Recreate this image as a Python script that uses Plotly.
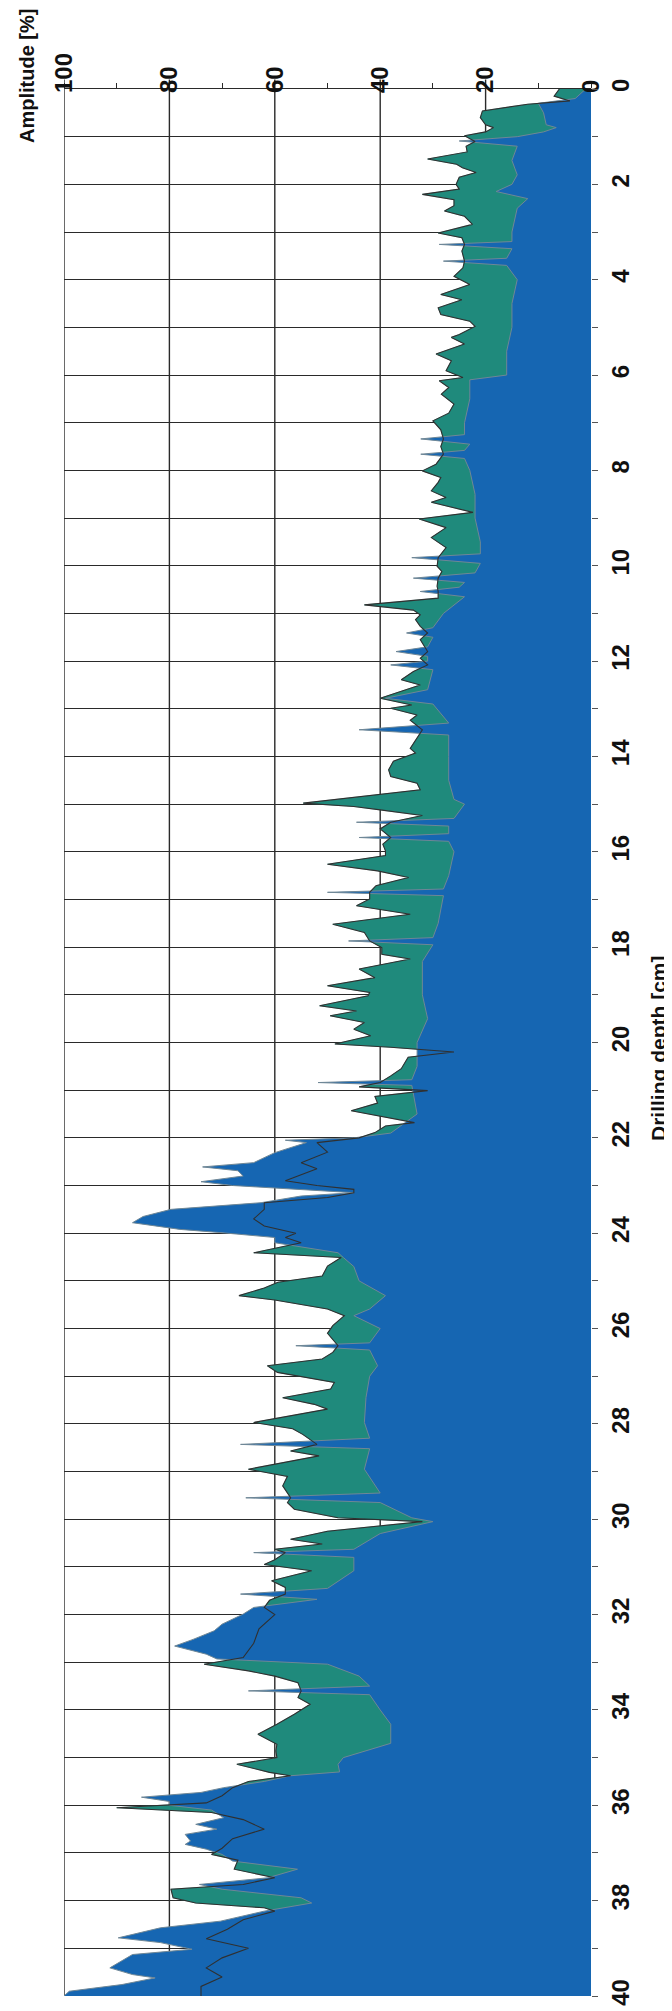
import plotly.graph_objects as go

# ---- data (depth in cm, amplitude in %) ----
green_depth = [0.00,0.15,0.25,0.32,0.46,0.60,0.75,0.81,0.90,0.98,1.10,1.20,1.32,1.47,1.58,1.65,1.75,1.85,2.00,2.10,
    2.21,2.32,2.45,2.56,2.67,2.84,3.02,3.12,3.26,3.40,3.61,3.75,3.93,4.10,4.31,4.42,4.59,4.73,4.87,4.98,
    5.15,5.21,5.35,5.56,5.70,5.91,6.05,6.12,6.26,6.40,6.61,6.80,6.96,7.15,7.34,7.50,7.66,7.87,8.01,8.15,
    8.25,8.43,8.57,8.67,8.88,9.02,9.20,9.41,9.62,9.83,10.01,10.12,10.26,10.43,10.54,10.68,10.82,10.93,11.03,11.13,
    11.27,11.41,11.55,11.80,11.94,12.08,12.22,12.39,12.50,12.78,12.92,12.99,13.13,13.24,13.44,13.62,13.83,13.93,14.10,14.28,
    14.42,14.56,14.70,14.98,15.05,15.12,15.24,15.38,15.52,15.70,15.84,15.98,16.08,16.26,16.40,16.54,16.71,16.85,16.99,17.13,
    17.31,17.52,17.69,17.87,18.01,18.15,18.25,18.46,18.64,18.81,18.95,19.02,19.23,19.34,19.44,19.58,19.72,19.86,20.03,20.10,
    20.20,20.31,20.55,20.70,20.84,20.93,21.01,21.13,21.27,21.43,21.57,21.68,21.75,21.89,22.00,22.10,22.30,22.52,22.65,22.80,
    22.90,23.00,23.08,23.15,23.25,23.36,23.50,23.70,23.85,24.00,24.09,24.20,24.41,24.51,24.69,24.90,25.03,25.15,25.31,25.40,
    25.59,25.73,25.94,26.10,26.36,26.50,26.64,26.78,26.92,27.13,27.27,27.45,27.59,27.69,27.97,28.10,28.22,28.43,28.57,28.67,
    28.95,29.10,29.30,29.55,29.65,29.79,29.97,30.05,30.25,30.42,30.52,30.63,30.70,30.85,30.95,31.08,31.29,31.43,31.57,31.70,
    31.85,32.00,32.30,32.60,32.90,33.04,33.18,33.29,33.43,33.60,33.74,33.88,34.09,34.30,34.51,34.72,34.86,35.00,35.14,35.31,
    35.38,35.50,35.63,35.80,35.95,36.05,36.15,36.30,36.50,36.70,36.90,37.03,37.15,37.34,37.52,37.66,37.76,37.94,38.05,38.15,
    38.22,38.40,38.60,38.80,39.00,39.20,39.41,39.60,39.80,40.00]
green_amp = [6,7,4,12,20.6,21,20,18.5,20,24,22,23.7,23.5,31,25.5,24.4,21.8,25,25.6,25,
    32,26,26,27.8,24,22.5,29,24.5,24,24.5,24,24.3,26,23,28.5,24.5,29,28.5,23,22,
    25,26.5,24,29.4,26.5,27.5,24.3,28.8,27,28.4,26,27,30,28.5,28,28.5,28,29.4,32,28.5,
    29,30.3,27.5,30.3,22.4,32.6,27.5,30.3,27.5,29,29.2,28.3,29,29.2,29,29,43,33.7,32.4,33.3,
    32.4,31,32.4,31,32.4,31,33.7,36,32.4,40,34,38,33,34.3,32,33,34.3,33.3,37.5,38.4,
    38,33,32.4,54.6,45,40,32,38,40,38,39.5,39,39,50,40.5,34.6,40.8,42,42,44.5,
    34.3,49,43,42,39.7,39.7,34.3,44,41,50,42,42.3,51.5,44.5,49.5,43,45,41.8,48.6,38,
    26,34.7,36,38,40,44,31,41,40.5,45.5,39,33.5,39,41,44,52,50,55,52,55.6,
    58,52,45,45,50,62,62,64,62,56,58,55,64,47.4,50,51,59.4,62,66.8,60,
    50,46.8,49,50,48,49,51,61.4,59.5,48.7,49.4,58.5,52.5,50,64,56.6,54.7,52,57,51.6,
    65,57.6,58.5,57,57.6,56.3,48,32,50,57,51,60,58,60,62,53,60.6,58,58,61,
    62,60,63,64,66,73.4,65,60,55.6,55,55.6,53.3,56.3,59.6,63.2,59.6,59.8,59.6,67.2,61,
    57,65,68,70,73,90,72,66,62,68,70,72,67,67.7,60,66,79.7,79.3,75,62,
    60,66,69,73,65,70,73,70,74,74]

blue_depth = [0.00,0.20,0.30,0.50,0.75,0.81,0.90,1.00,1.09,1.20,1.50,1.80,2.00,2.15,2.30,2.50,3.00,3.20,3.26,3.35,
    3.55,3.61,3.70,4.00,4.50,5.00,5.50,6.00,6.10,6.50,7.00,7.25,7.34,7.45,7.58,7.66,7.75,8.00,8.50,9.00,
    9.50,9.75,9.83,9.95,10.15,10.26,10.35,10.45,10.54,10.65,11.00,11.30,11.41,11.50,11.70,11.80,11.90,12.00,12.08,12.18,
    12.60,12.78,12.90,13.30,13.44,13.55,14.00,14.50,14.90,15.00,15.30,15.38,15.46,15.62,15.70,15.78,16.00,16.50,16.78,16.85,
    16.92,17.50,17.80,17.87,17.95,18.30,19.00,19.50,20.00,20.50,20.78,20.84,20.90,21.50,21.90,22.00,22.05,22.10,22.31,22.52,
    22.61,22.69,22.80,22.92,23.00,23.08,23.15,23.22,23.36,23.50,23.65,23.78,23.92,23.99,24.09,24.20,24.41,24.51,24.70,25.00,
    25.31,25.59,25.73,26.00,26.30,26.36,26.45,26.78,27.00,27.45,27.97,28.30,28.43,28.52,28.95,29.45,29.55,29.65,29.97,30.05,
    30.30,30.63,30.70,30.80,31.08,31.45,31.57,31.68,31.85,31.99,32.20,32.34,32.52,32.66,32.83,32.93,33.04,33.29,33.50,33.60,
    33.68,34.00,34.30,34.70,35.00,35.14,35.30,35.38,35.50,35.63,35.73,35.83,35.92,36.00,36.10,36.26,36.40,36.50,36.61,36.75,
    36.82,36.92,37.03,37.17,37.34,37.52,37.66,37.76,37.94,38.05,38.15,38.22,38.43,38.57,38.78,38.88,39.02,39.13,39.41,39.55,
    39.62,39.76,39.90,40.00]
blue_amp = [1,3,10,9,8.5,6.6,9,14,25,14,15,14,15,18,12,14,15,15,28.8,15,
    16,28,16,14,15,15,16,16,23,23,24,24,32.3,23,24,32.3,24,23,22,22,
    21,21,34,21,22,33.7,24,25,32.4,24,28,30,35,30,31,37,31,31,38,30,
    31,39,30,27,44,27,27,27,26,24,26,44.5,27,27,44,27,26,27,28,50,
    28,29,30,46,30,32,32,31,33,33,34,51.8,34,33,38,45,58,54,60,64,
    73.7,67,66,74,68,56,45,55,62.6,79.7,85,87,78,70,60,60,48,47,45,44,
    39,42,45,40,42,56,42,40.5,42,42.7,43,42,66.5,42,43,40,65.5,40,34,30,
    40,45,64,45,45,50,66.5,52,64,66,70,71.5,75.5,79,73,71,50,44,42,65,
    42,40,38,38,47,48,47.7,57,62,69.7,74,85.3,80,80,72,69.7,75,71,77,76,
    77,73,70,68,55.7,61.3,74.3,70,55,53,58,62,70.3,81.7,89.7,81.7,75.7,87,91.3,87,
    82.7,89,99,100]

amp_ticks = [0, 20, 40, 60, 80, 100]
depth_ticks = list(range(0, 41, 2))

BLUE = "#1666b2"
TEAL = "#1f8a7c"
GRID = "#2a2a2a"

fig = go.Figure()
fig.add_trace(go.Scatter(x=green_amp, y=green_depth, mode="lines", fill="tozerox",
                         fillcolor=TEAL, line=dict(color=TEAL, width=0.5), hoverinfo="skip",
                         showlegend=False))
fig.add_trace(go.Scatter(x=blue_amp, y=blue_depth, mode="lines", fill="tozerox",
                         fillcolor=BLUE, line=dict(color="#6f8796", width=1), hoverinfo="skip",
                         showlegend=False))
fig.add_trace(go.Scatter(x=green_amp, y=green_depth, mode="lines",
                         line=dict(color="#303030", width=1.1), hoverinfo="skip",
                         showlegend=False))

# vertical grid lines (amplitude), drawn beneath the data
for a in [20, 40, 60, 80, 100]:
    fig.add_shape(type="line", xref="x", yref="paper", x0=a, x1=a, y0=0, y1=1.005,
                  line=dict(color=GRID, width=1.4), layer="below")

fig.update_layout(
    width=672, height=2011,
    margin=dict(l=56, r=89, t=81, b=23),
    paper_bgcolor="white", plot_bgcolor="white",
    font=dict(family="Liberation Sans, Arial, sans-serif", color="#111"),
    xaxis=dict(range=[100, 0], side="top", tickvals=amp_ticks, ticktext=[str(v) for v in amp_ticks],
               tickangle=-90, showgrid=False, zeroline=False,
               showline=True, linecolor=GRID, linewidth=1.4,
               ticks="outside", ticklen=5, tickcolor=GRID,
               minor=dict(tickvals=[10, 30, 50, 70, 90], ticks="outside", ticklen=5, tickcolor=GRID),
               tickfont=dict(size=24, weight="bold", color="#111"),
               ticklabelstandoff=-15),
    yaxis=dict(range=[40, 0], side="right", tickvals=depth_ticks, ticktext=[str(v) for v in depth_ticks],
               tickangle=-90, showgrid=True, gridcolor=GRID, gridwidth=1.4, zeroline=False,
               showline=False, ticks="outside", ticklen=6, tickcolor="#555",
               minor=dict(dtick=1, showgrid=True, gridcolor=GRID, gridwidth=1.4,
                          ticks="outside", ticklen=6, tickcolor="#555"),
               tickfont=dict(size=24, weight="bold", color="#111"),
               ticklabelstandoff=2),
    annotations=[
        dict(text="Amplitude [%]", textangle=-90, xref="paper", yref="paper",
             x=(19 - 56) / 527, y=1 - (68 - 81) / 1907, xanchor="center", yanchor="middle",
             showarrow=False, font=dict(size=20, weight="bold", color="#111")),
        dict(text="Drilling depth [cm]", textangle=-90, xref="paper", yref="paper",
             x=(650 - 56) / 527, y=1 - (1040 - 81) / 1907, xanchor="center", yanchor="middle",
             showarrow=False, font=dict(size=21, weight="bold", color="#111")),
    ],
)

fig.write_html("out.html")
